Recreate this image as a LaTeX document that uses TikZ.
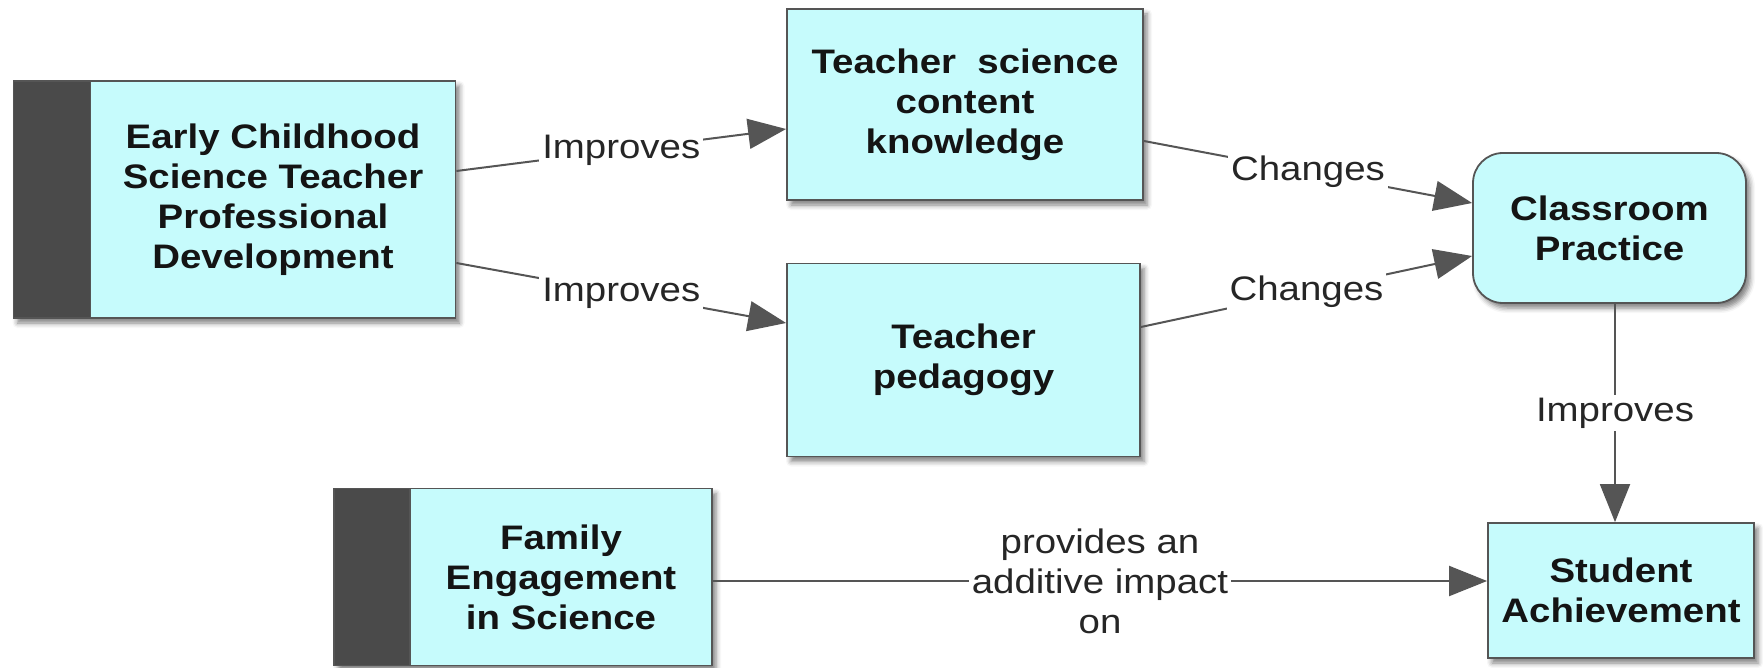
\documentclass[tikz,border=0pt]{standalone}
\usepackage{fontspec}
\setmainfont{Liberation Sans}[FakeStretch=1.13]
\usetikzlibrary{arrows.meta,shadows.blur}
\definecolor{boxfill}{HTML}{C6FBFC}
\definecolor{edgegray}{HTML}{555555}
\definecolor{bargray}{HTML}{4A4A4A}
\begin{document}
\begin{tikzpicture}[x=1pt,y=-1pt,
  shade box/.style={blur shadow={shadow xshift=4pt, shadow yshift=-5pt,
      shadow blur radius=5pt, shadow opacity=50}},
  concept/.style={draw=edgegray, line width=1.8pt, fill=boxfill, align=center,
      inner sep=0pt, text=black!92,
      font=\fontsize{34}{40}\selectfont\bfseries},
  sidebar/.style={draw=edgegray, line width=1.8pt, fill=bargray, inner sep=0pt, shade box},
  lbl/.style={fill=white, inner sep=3pt, align=center, text=black!85,
      font=\fontsize{34}{40}\selectfont},
  conn/.style={draw=edgegray, line width=2pt,
      -{Triangle[length=38pt,width=30pt]}}
]
\useasboundingbox (0,0) rectangle (1763,668);

% source concept with its dark side bar
\node[sidebar, minimum width=442pt, minimum height=237pt] (ecbar) at (234.5,199.5) {};
\node[concept, minimum width=365pt, minimum height=237pt, anchor=east] (ec) at (ecbar.east)
  {Early Childhood\\Science Teacher\\Professional\\Development};

\node[concept, shade box, minimum width=356pt, minimum height=191pt] (tsck) at (965,104.5)
  {Teacher~~science\\content\\knowledge};
\node[concept, shade box, minimum width=353pt, minimum height=193pt] (tp) at (963.5,360)
  {Teacher\\pedagogy};
\node[concept, shade box, rounded corners=30pt, minimum width=273pt, minimum height=150pt] (cp) at (1609.5,228)
  {Classroom\\Practice};
\node[concept, shade box, minimum width=266pt, minimum height=135pt] (sa) at (1621,590.5)
  {Student\\Achievement};

\node[sidebar, minimum width=378pt, minimum height=177pt] (febar) at (523,577) {};
\node[concept, minimum width=302pt, minimum height=177pt, anchor=east] (fe) at (febar.east)
  {Family\\Engagement\\in Science};

% connectors
\draw[conn] ([yshift=28.5pt]ec.east) -- node[lbl] {Improves} ([yshift=-24.5pt]tsck.west);
\draw[conn] ([yshift=-63.5pt]ec.east) -- node[lbl] {Improves} ([yshift=37pt]tp.west);
\draw[conn] ([yshift=-36.5pt]tsck.east) -- node[lbl] {Changes} ([yshift=25pt]cp.west);
\draw[conn] ([yshift=33pt]tp.east) -- node[lbl] {Changes} ([yshift=-28pt]cp.west);
\draw[conn] ([xshift=5.5pt]cp.south) -- node[lbl] {Improves} ([xshift=-6pt]sa.north);
\draw[conn] ([yshift=-4pt]fe.east) -- node[lbl] {provides an\\additive impact\\on} ([yshift=9.5pt]sa.west);
\end{tikzpicture}
\end{document}
